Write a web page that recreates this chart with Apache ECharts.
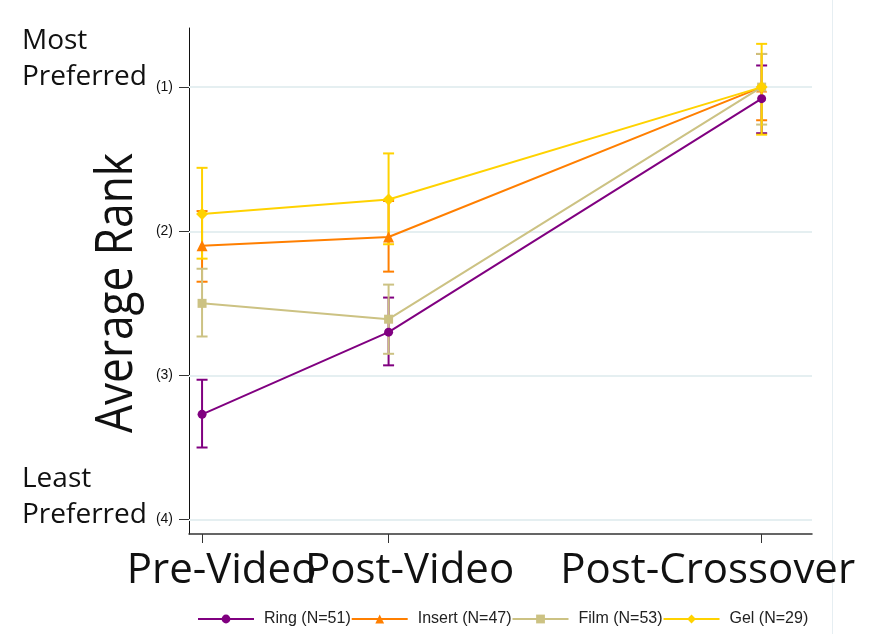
<!DOCTYPE html>
<html>
<head>
<meta charset="utf-8">
<script src="https://cdn.jsdelivr.net/npm/echarts@6/dist/echarts.min.js"></script>
<style>
  html, body { margin: 0; padding: 0; background: #fff; }
  #main { width: 881px; height: 634px; }
</style>
</head>
<body>
<div id="main"></div>
<script>
// Time points on the horizontal axis (crossover sits further out)
const timePoints = [1, 2, 4];
const timeLabels = ['Pre-Video', 'Post-Video', 'Post-Crossover'];
// Horizontal nudge of each time label relative to its tick
const timeLabelShift = [19.5, 21, -54];

// Rank ticks on the vertical axis (1 = most preferred, shown at top)
const rankTicks = [1, 2, 3, 4];
const rankTickLabels = ['(1)', '(2)', '(3)', '(4)'];

const groupNames = ['Ring (N=51)', 'Insert (N=47)', 'Film (N=53)', 'Gel (N=29)'];
const groupColors = ['#800080', '#FF7F00', '#CCC283', '#FFD200'];
const groupSymbols = ['circle', 'triangle', 'rect', 'diamond'];
const groupSymbolSizes = [9, 11, 9, 12];

// Mean rank and confidence interval bounds per group
const ringMean  = [3.27, 2.70, 1.08];
const ringLow   = [3.03, 2.46, 0.85];
const ringHigh  = [3.50, 2.93, 1.32];

const insertMean = [2.10, 2.04, 1.00];
const insertLow  = [1.86, 1.79, 0.77];
const insertHigh = [2.35, 2.28, 1.23];

const filmMean = [2.50, 2.61, 1.00];
const filmLow  = [2.26, 2.37, 0.77];
const filmHigh = [2.73, 2.85, 1.26];

const gelMean = [1.88, 1.78, 1.00];
const gelLow  = [1.56, 1.46, 0.70];
const gelHigh = [2.19, 2.09, 1.33];

const groupMeans = [ringMean, insertMean, filmMean, gelMean];
const groupLows  = [ringLow, insertLow, filmLow, gelLow];
const groupHighs = [ringHigh, insertHigh, filmHigh, gelHigh];

const chart = echarts.init(document.getElementById('main'), null, { renderer: 'canvas' });

function errorBarRenderer(color) {
  return function (params, api) {
    const x = api.value(0);
    const top = api.coord([x, api.value(1)]);
    const bottom = api.coord([x, api.value(2)]);
    const half = 5.5;
    const st = { stroke: color, lineWidth: 2 };
    return {
      type: 'group',
      children: [
        { type: 'line', shape: { x1: top[0], y1: top[1], x2: bottom[0], y2: bottom[1] }, style: st },
        { type: 'line', shape: { x1: top[0] - half, y1: top[1], x2: top[0] + half, y2: top[1] }, style: st },
        { type: 'line', shape: { x1: bottom[0] - half, y1: bottom[1], x2: bottom[0] + half, y2: bottom[1] }, style: st }
      ]
    };
  };
}

const series = [];

// Error bars drawn underneath the mean lines
groupNames.forEach(function (name, g) {
  series.push({
    type: 'custom',
    name: name + ' CI',
    z: 2,
    silent: true,
    renderItem: errorBarRenderer(groupColors[g]),
    encode: { x: 0, y: [1, 2] },
    data: timePoints.map(function (t, i) { return [t, groupLows[g][i], groupHighs[g][i]]; })
  });
});

groupNames.forEach(function (name, g) {
  const s = {
    type: 'line',
    name: name,
    z: 3 + g,
    symbol: groupSymbols[g],
    symbolSize: groupSymbolSizes[g],
    showAllSymbol: true,
    color: groupColors[g],
    lineStyle: { color: groupColors[g], width: 2 },
    itemStyle: { color: groupColors[g] },
    data: timePoints.map(function (t, i) { return [t, groupMeans[g][i]]; })
  };
  if (g === 0) {
    // light horizontal reference lines at each rank
    s.markLine = {
      silent: true,
      symbol: 'none',
      label: { show: false },
      lineStyle: { color: '#e5eff1', width: 2, type: 'solid' },
      z: 1,
      data: rankTicks.map(function (r) { return { yAxis: r }; })
    };
  }
  series.push(s);
});

const staticGraphics = [
  {
    type: 'text', x: 117, y: 293, rotation: Math.PI / 2, scaleX: 0.85,
    style: { text: 'Average Rank', font: '52px "Open Sans"', fill: '#111111', align: 'center', verticalAlign: 'middle' }
  },
  { type: 'text', x: 22, y: 41, style: { text: 'Most', font: '28px "Open Sans"', fill: '#111111', verticalAlign: 'middle' } },
  { type: 'text', x: 22, y: 77, style: { text: 'Preferred', font: '28px "Open Sans"', fill: '#111111', verticalAlign: 'middle' } },
  { type: 'text', x: 22, y: 479, style: { text: 'Least', font: '28px "Open Sans"', fill: '#111111', verticalAlign: 'middle' } },
  { type: 'text', x: 22, y: 515, style: { text: 'Preferred', font: '28px "Open Sans"', fill: '#111111', verticalAlign: 'middle' } },
  { type: 'line', shape: { x1: 832.5, y1: 0, x2: 832.5, y2: 634 }, style: { stroke: '#e6eef2', lineWidth: 1 } }
];

const option = {
  animation: false,
  backgroundColor: '#ffffff',
  grid: { left: 189, right: 69, top: 28, bottom: 100, containLabel: false },
  xAxis: {
    type: 'value',
    min: 0.93,
    max: 4.27,
    axisLine: { show: true, onZero: false, lineStyle: { color: '#333333', width: 1.5 } },
    axisTick: { show: true, customValues: timePoints, length: 9, lineStyle: { color: '#333333', width: 1 } },
    axisLabel: { show: false },
    splitLine: { show: false }
  },
  yAxis: {
    type: 'value',
    inverse: true,
    min: 0.59,
    max: 4.1,
    axisLine: { show: true, onZero: false, lineStyle: { color: '#111111', width: 1 } },
    axisTick: { show: true, customValues: rankTicks, length: 10, lineStyle: { color: '#333333' } },
    axisLabel: {
      customValues: rankTicks,
      margin: 16,
      color: '#111111',
      fontFamily: 'Liberation Sans',
      fontSize: 14,
      formatter: function (v) { return rankTickLabels[rankTicks.indexOf(v)]; }
    },
    splitLine: { show: false }
  },
  legend: {
    left: 197,
    top: 611,
    width: 684,
    padding: 0,
    itemWidth: 56,
    itemHeight: 11,
    itemGap: 0,
    data: groupNames,
    textStyle: { fontFamily: 'Liberation Sans', fontSize: 16, color: '#222222', padding: [0, 0, 0, 5] }
  },
  graphic: staticGraphics,
  series: series
};

chart.setOption(option);

// Time labels are large and overlap each other, so they are placed at
// the axis tick positions as free text rather than as axis labels.
const timeLabelGraphics = timePoints.map(function (t, i) {
  const px = chart.convertToPixel({ xAxisIndex: 0 }, t);
  return {
    type: 'text',
    x: px + timeLabelShift[i],
    y: 571,
    style: { text: timeLabels[i], font: '42px "Open Sans"', fill: '#111111', align: 'center', verticalAlign: 'middle' }
  };
});
chart.setOption({ graphic: staticGraphics.concat(timeLabelGraphics) });
</script>
</body>
</html>
